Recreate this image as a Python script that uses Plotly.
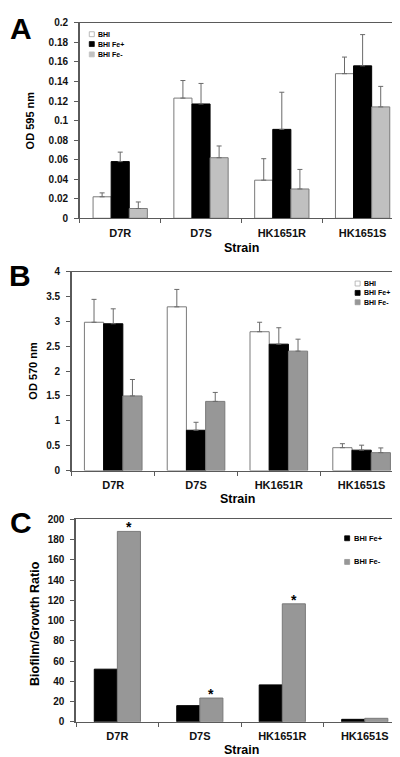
import plotly.graph_objects as go

# ---------------- data ----------------
categories = ["D7R", "D7S", "HK1651R", "HK1651S"]

# Panel A: OD 595 nm
A_bhi = [0.022, 0.123, 0.039, 0.148]
A_bhi_err = [0.004, 0.018, 0.022, 0.017]
A_fep = [0.058, 0.117, 0.091, 0.156]
A_fep_err = [0.0097, 0.021, 0.038, 0.032]
A_fem = [0.010, 0.062, 0.030, 0.114]
A_fem_err = [0.0067, 0.012, 0.020, 0.021]
A_ticks = [0, 0.02, 0.04, 0.06, 0.08, 0.1, 0.12, 0.14, 0.16, 0.18, 0.2]
A_ticklabels = ["0", "0.02", "0.04", "0.06", "0.08", "0.1", "0.12", "0.14", "0.16", "0.18", "0.2"]

# Panel B: OD 570 nm
B_bhi = [2.98, 3.29, 2.79, 0.46]
B_bhi_err = [0.46, 0.35, 0.19, 0.08]
B_fep = [2.95, 0.81, 2.54, 0.41]
B_fep_err = [0.30, 0.16, 0.33, 0.10]
B_fem = [1.50, 1.39, 2.40, 0.36]
B_fem_err = [0.33, 0.18, 0.24, 0.095]
B_ticks = [0, 0.5, 1, 1.5, 2, 2.5, 3, 3.5, 4]
B_ticklabels = ["0", "0.5", "1", "1.5", "2", "2.5", "3", "3.5", "4"]

# Panel C: Biofilm/Growth ratio
C_fep = [52, 16, 36.5, 2.5]
C_fem = [188, 23.5, 116.5, 3.5]
C_sig = ["*", "*", "*", ""]
C_ticks = [0, 20, 40, 60, 80, 100, 120, 140, 160, 180, 200]
C_ticklabels = [str(v) for v in C_ticks]

# ---------------- style ----------------
W, H = 400, 757
FONT = "Liberation Sans, Arial, Helvetica, sans-serif"
C_WHITE, C_BLACK = "#ffffff", "#000000"
C_LGRAY, C_MGRAY = "#c0c0c0", "#979797"
EDGE = "#7a7a7a"
ERRC = "#6a6a6a"
AXC = "#5a5a5a"


def py(y):
    return 1 - y / H


def px(x):
    return x / W


xs = list(range(len(categories)))

fig = go.Figure()


def add_bar(vals, err, color, edge, width, offset, xa, ya):
    fig.add_trace(go.Bar(
        x=xs, y=vals, width=width, offset=offset, xaxis=xa, yaxis=ya,
        marker=dict(color=color, line=dict(color=edge, width=1)),
        error_y=(dict(type="data", array=err, arrayminus=[0] * len(err), symmetric=False,
                      color=ERRC, thickness=1, width=2.5) if err is not None else None),
        showlegend=False))


# Panel A
wA = 0.224
add_bar(A_bhi, A_bhi_err, C_WHITE, EDGE, wA, -1.5 * wA, "x", "y")
add_bar(A_fep, A_fep_err, C_BLACK, "#000", wA, -0.5 * wA, "x", "y")
add_bar(A_fem, A_fem_err, C_LGRAY, EDGE, wA, 0.5 * wA, "x", "y")
# Panel B
wB = 0.232
add_bar(B_bhi, B_bhi_err, C_WHITE, EDGE, wB, -1.5 * wB, "x2", "y2")
add_bar(B_fep, B_fep_err, C_BLACK, "#000", wB, -0.5 * wB, "x2", "y2")
add_bar(B_fem, B_fem_err, C_MGRAY, EDGE, wB, 0.5 * wB, "x2", "y2")
# Panel C
wC = 0.28
add_bar(C_fep, None, C_BLACK, "#000", wC, -wC, "x3", "y3")
add_bar(C_fem, None, C_MGRAY, EDGE, wC, 0, "x3", "y3")

ytickfont = dict(family=FONT, size=10, color="#111", weight="bold")
xtickfont = dict(family=FONT, size=11, color="#111", weight="bold")


def xaxis(domain, anchor):
    return dict(domain=domain, anchor=anchor, range=[-0.5, 3.5],
                tickvals=xs, ticktext=categories, tickfont=xtickfont,
                ticks="outside", ticklen=4, tickcolor="rgba(0,0,0,0)",
                minor=dict(tickvals=[-0.5, 0.5, 1.5, 2.5, 3.5], ticks="outside",
                           ticklen=4, tickcolor=AXC, tickwidth=1),
                showline=True, linecolor=AXC, linewidth=1.3, mirror=True,
                showgrid=False, zeroline=False, fixedrange=True)


def yaxis(domain, anchor, rng, tv, tt):
    return dict(domain=domain, anchor=anchor, range=rng, tickvals=tv, ticktext=tt,
                tickfont=ytickfont, ticks="outside", ticklen=4, tickcolor=AXC,
                ticklabelstandoff=4,
                showline=True, linecolor=AXC, linewidth=1.5, mirror=True,
                showgrid=False, zeroline=False, fixedrange=True)


layout = dict(
    width=W, height=H, margin=dict(l=0, r=0, t=0, b=0),
    paper_bgcolor="white", plot_bgcolor="white",
    font=dict(family=FONT, color="#000"),
    barmode="overlay",
    xaxis=xaxis([px(72), px(396)], "y"),
    yaxis=yaxis([py(207.3), py(9)], "x", [0, 0.2], A_ticks, A_ticklabels),
    xaxis2=xaxis([px(64), px(396)], "y2"),
    yaxis2=yaxis([py(463.3), py(261.3)], "x2", [0, 4], B_ticks, B_ticklabels),
    xaxis3=xaxis([px(68.3), px(399)], "y3"),
    yaxis3=yaxis([py(718.3), py(512.7)], "x3", [0, 200], C_ticks, C_ticklabels),
)
fig.update_layout(**layout)

ann = []
shapes = []


def label(text, x, y, size, angle=0, xanchor="center"):
    ann.append(dict(text=text, x=px(x), y=py(y), xref="paper", yref="paper",
                    showarrow=False, textangle=angle, xanchor=xanchor, yanchor="middle",
                    font=dict(family=FONT, size=size, color="#000", weight="bold")))


# Panel letters
label("A", 13, 15, 30)
label("B", 12, 265, 30)
label("C", 13, 516, 30)
# Axis titles
label("OD 595 nm", 22, 108, 11, angle=-90)
label("Strain", 234, 237, 12.5)
label("OD 570 nm", 25, 362, 11, angle=-90)
label("Strain", 230, 492, 12.5)
label("Biofilm/Growth Ratio", 27, 618, 12.5, angle=-90)
label("Strain", 234, 747, 12.5)

# significance asterisks above the Fe- bars of panel C
for xi, v, s in zip(xs, C_fem, C_sig):
    if s:
        ann.append(dict(text=s, x=xi + 0.5 * wC, y=v, xref="x3", yref="y3",
                        showarrow=False, xanchor="center", yanchor="bottom", yshift=-6,
                        font=dict(family=FONT, size=14, color="#000", weight="bold")))


def legend_item(name, color, edge, x, y, size=7, sq=5):
    shapes.append(dict(type="rect", xref="paper", yref="paper",
                       x0=px(x), x1=px(x + sq), y0=py(y + sq / 2), y1=py(y - sq / 2),
                       fillcolor=color, line=dict(color=edge, width=0.8)))
    label(name, x + sq + 2, y, size, xanchor="left")


series_names = ["BHI", "BHI Fe+", "BHI Fe-"]
# Legend A
for name, col, ed, yy in zip(series_names, [C_WHITE, C_BLACK, C_LGRAY],
                             ["#aaa", "#000", C_LGRAY], [20.5, 30.5, 41]):
    legend_item(name, col, ed, 81.5, yy)
# Legend B
for name, col, ed, yy in zip(series_names, [C_WHITE, C_BLACK, C_MGRAY],
                             ["#aaa", "#000", C_MGRAY], [273.5, 283, 292.5]):
    legend_item(name, col, ed, 348, yy)
# Legend C
for name, col, ed, yy in zip(series_names[1:], [C_BLACK, C_MGRAY],
                             ["#000", C_MGRAY], [532, 556]):
    legend_item(name, col, ed, 337.5, yy, size=7.5)

fig.update_layout(annotations=ann, shapes=shapes)
fig.write_html("out.html")
